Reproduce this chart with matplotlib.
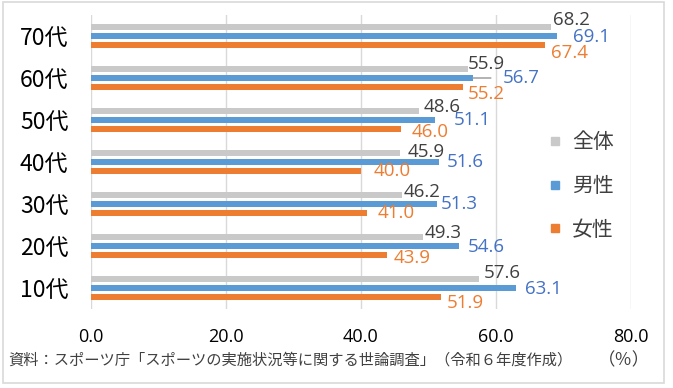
import matplotlib
matplotlib.use("Agg")
import matplotlib.pyplot as plt
from matplotlib.lines import Line2D
from matplotlib.patches import Rectangle
import numpy as np

plt.rcParams['font.family'] = ['Noto Sans CJK JP', 'DejaVu Sans']

# ---- data ----
categories = ['10代', '20代', '30代', '40代', '50代', '60代', '70代']
total = [57.6, 49.3, 46.2, 45.9, 48.6, 55.9, 68.2]
male = [63.1, 54.6, 51.3, 51.6, 51.1, 56.7, 69.1]
female = [51.9, 43.9, 41.0, 40.0, 46.0, 55.2, 67.4]
series_names = ['全体', '男性', '女性']
xticks = [0, 20, 40, 60, 80]
source = '資料：スポーツ庁「スポーツの実施状況等に関する世論調査」（令和６年度作成）'
unit = '（％）'

# ---- style ----
bar_colors = ['#C9C9C9', '#5B9BD5', '#ED7D31']
label_colors = ['#404040', '#4472C4', '#ED7D31']
# data-label offsets in pixels (dx right, dy down) – mimic Excel's label placement
lab_off = [
    [(4, -6), (1, -4), (1, -3), (7, -1), (5, -4), (0, -5), (2, -7)],
    [(9, 1), (9, 1), (4, 0), (8, 0), (18, 0), (30, 0), (16, 1)],
    [(6, 6), (7, 3), (10, 0), (13, 0), (11, 3), (5, 7), (6, 8)],
]
leader = [False, False, False, False, False, True, False]
num_font = 'Open Sans'

fig = plt.figure(figsize=(6.73, 3.88), dpi=100)
ax = fig.add_axes([90.5 / 673, 1 - 309 / 388, 540 / 673, 294 / 388])

y = np.arange(len(categories))
step = 0.207
bh = 0.145
all_series = [total, male, female]
offs = [step, 0, -step]
for si, (vals, off) in enumerate(zip(all_series, offs)):
    ax.barh(y + off, vals, height=bh, color=bar_colors[si], zorder=3,
            label=series_names[si])
    for i, v in enumerate(vals):
        dx, dy = lab_off[si][i]
        kw = {}
        if si == 1 and leader[i]:
            kw['arrowprops'] = dict(arrowstyle='-', color='#A6A6A6', lw=1.2,
                                    shrinkA=7, shrinkB=0)
        ax.annotate(f'{v:.1f}', xy=(v, y[i] + off), xytext=(dx, -dy),
                    textcoords='offset pixels', ha='left', va='center',
                    fontsize=13.5, family=num_font, color=label_colors[si],
                    zorder=4, **kw)

ax.set_xlim(0, 80)
ax.set_ylim(-0.5, len(categories) - 0.5)
ax.set_xticks(xticks)
ax.set_xticklabels([f'{t:.1f}' for t in xticks], family=num_font, fontsize=13,
                   color='#000000')
ax.set_yticks(y)
ax.set_yticklabels(categories, fontsize=16.5, color='#000000')
ax.tick_params(axis='x', length=0, pad=14)
ax.tick_params(axis='y', length=0, pad=16)
ax.grid(axis='x', color='#D9D9D9', lw=1.0, zorder=0)
for s in ax.spines.values():
    s.set_visible(False)

# legend
handles = [Line2D([], [], marker='s', ls='none', markersize=5.5,
                  markerfacecolor=c, markeredgecolor=c) for c in bar_colors]
fig.legend(handles, series_names, loc='upper left',
           bbox_to_anchor=(549 / 673, 1 - 131 / 388), frameon=False,
           fontsize=15, labelspacing=1.05, handlelength=0.6, handletextpad=0.5,
           borderpad=0, borderaxespad=0, labelcolor='#404040')

# source line
fig.text(8 / 673, 1 - 360 / 388, source, fontsize=11.0, color='#404040',
         ha='left', va='center')
fig.text(650 / 673, 1 - 360 / 388, unit, fontsize=12.5, color='#404040',
         ha='right', va='center')

# outer border
fig.patches.append(Rectangle((3 / 673, 1 - 383 / 388), 661 / 673, 381 / 388,
                             transform=fig.transFigure, fill=False,
                             edgecolor='#D9D9D9', lw=1.2))

fig.savefig('out.png', dpi=100)
